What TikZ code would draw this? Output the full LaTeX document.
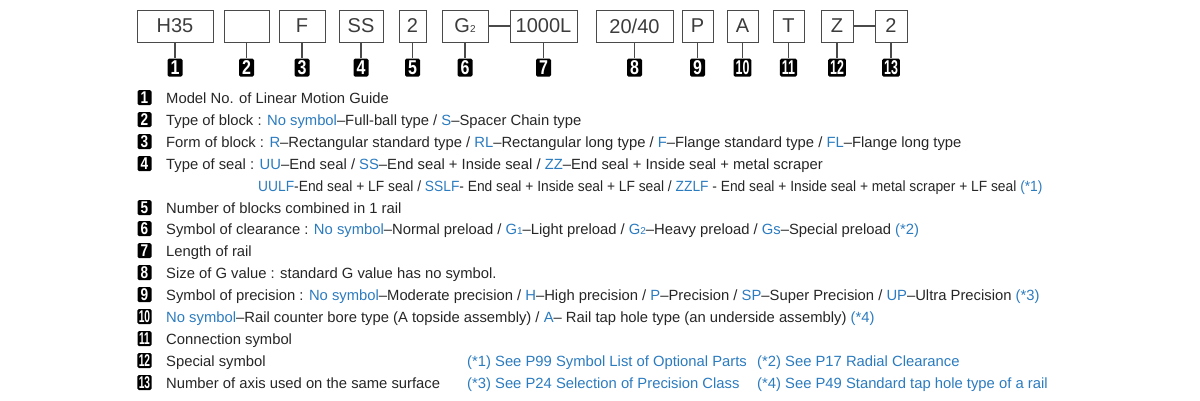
\documentclass[tikz,border=0pt]{standalone}
\usepackage{fontspec}
\setmainfont{Liberation Sans}
\usepackage{xcolor}
\usetikzlibrary{positioning}

\definecolor{codeblue}{HTML}{2B7BBF}
\definecolor{txtgray}{HTML}{262626}
\definecolor{linegray}{HTML}{4A4A4A}

\newcommand{\bl}[1]{\textcolor{codeblue}{#1}}
\newcommand{\sub}[1]{{\fontsize{10}{10}\selectfont #1}}

\begin{document}
\begin{tikzpicture}[x=1pt, y=-1pt, node distance=16pt,
  every node/.style={text=txtgray},
  codebox/.style={draw=linegray, line width=0.9pt, minimum height=32pt, inner sep=0pt, font=\fontsize{20}{20}\selectfont, text=txtgray!90!white},
  bignum/.style={fill=black, rounded corners=1.5pt, minimum width=15pt, minimum height=18pt, inner xsep=2pt, inner ysep=0pt, text=white, font=\fontsize{20}{20}\selectfont\bfseries},
  smallnum/.style={fill=black, rounded corners=1.5pt, minimum width=14pt, minimum height=15pt, inner xsep=1.5pt, inner ysep=0pt, text=white, font=\fontsize{17}{17}\selectfont\bfseries},
  stem/.style={draw=linegray, line width=1.5pt},
  item/.style={anchor=base west, inner sep=0pt, font=\fontsize{14.8}{17}\selectfont}]

\useasboundingbox (0,0) rectangle (1200,400);

% code boxes
\node[codebox, minimum width=76pt] (b1) at (175,26) {H35};
\node[codebox, minimum width=45pt] (b2) at (246.5,26) {};
\node[codebox, minimum width=46pt] (b3) at (302,26) {F};
\node[codebox, minimum width=44pt] (b4) at (361,26) {SS};
\node[codebox, minimum width=27pt] (b5) at (412.5,26) {2};
\node[codebox, minimum width=46pt] (b6) at (465,26) {G\sub{2}};
\node[codebox, minimum width=67pt] (b7) at (543.5,26) {1000L};
\node[codebox, minimum width=77pt] (b8) at (634.5,26) {20/40};
\node[codebox, minimum width=31pt] (b9) at (697.5,26) {P};
\node[codebox, minimum width=31pt] (b10) at (742.5,26) {A};
\node[codebox, minimum width=31pt] (b11) at (788.5,26) {T};
\node[codebox, minimum width=32pt] (b12) at (837,26) {Z};
\node[codebox, minimum width=32pt] (b13) at (891,26) {2};

\draw[stem] (b6) -- (b7);
\draw[stem] (b12) -- (b13);

% numbers under the boxes
\foreach \i in {1,...,9}
  \node[bignum, below=of b\i] (n\i) {\scalebox{0.8}[1]{\i}};
\foreach \i in {10,...,13}
  \node[bignum, below=of b\i] (n\i) {\scalebox{0.62}[1]{\i}};
\foreach \i in {1,...,13}
  \draw[stem] (b\i.south) -- (n\i.north);

% legend
\foreach \i/\y in {1/103,2/125,3/147,4/169,5/213,6/234,7/256,8/278,9/300}
  \node[smallnum] (m\i) at (144.5,\y-5.5) {\scalebox{0.8}[1]{\i}};
\foreach \i/\y in {10/322,11/344,12/366,13/388}
  \node[smallnum] (m\i) at (144.5,\y-5.5) {\scalebox{0.6}[1]{\i}};

\node[item] (t1) at (166,103) {Model No. of Linear Motion Guide};
\node[item] (t2) at (166,125) {Type of block : \bl{No symbol}--Full-ball type / \bl{S}--Spacer Chain type};
\node[item] (t3) at (166,147) {Form of block : \bl{R}--Rectangular standard type / \bl{RL}--Rectangular long type / \bl{F}--Flange standard type / \bl{FL}--Flange long type};
\node[item] (t4) at (166,169) {Type of seal : \bl{UU}--End seal / \bl{SS}--End seal + Inside seal / \bl{ZZ}--End seal + Inside seal + metal scraper};
\node[item] (t4b) at (258,191) {\scalebox{0.932}[1]{\bl{UULF}-End seal + LF seal / \bl{SSLF}- End seal + Inside seal + LF seal / \bl{ZZLF} - End seal + Inside seal + metal scraper + LF seal \bl{(*1)}}};
\node[item] (t5) at (166,213) {Number of blocks combined in 1 rail};
\node[item] (t6) at (166,234) {Symbol of clearance : \bl{No symbol}--Normal preload / \bl{G\sub{1}}--Light preload / \bl{G\sub{2}}--Heavy preload / \bl{Gs}--Special preload \bl{(*2)}};
\node[item] (t7) at (166,256) {Length of rail};
\node[item] (t8) at (166,278) {Size of G value : standard G value has no symbol.};
\node[item] (t9) at (166,300) {Symbol of precision : \bl{No symbol}--Moderate precision / \bl{H}--High precision / \bl{P}--Precision / \bl{SP}--Super Precision / \bl{UP}--Ultra Precision \bl{(*3)}};
\node[item] (t10) at (166,322) {\bl{No symbol}--Rail counter bore type (A topside assembly) / \bl{A}-- Rail tap hole type (an underside assembly) \bl{(*4)}};
\node[item] (t11) at (166,344) {Connection symbol};
\node[item] (t12) at (166,366) {Special symbol};
\node[item] (t13) at (166,388) {Number of axis used on the same surface};

% notes
\node[item] (f1) at (467,366) {\bl{(*1) See P99 Symbol List of Optional Parts}};
\node[item] (f2) at (757,366) {\bl{(*2) See P17 Radial Clearance}};
\node[item] (f3) at (467,388) {\bl{(*3) See P24 Selection of Precision Class}};
\node[item] (f4) at (757,388) {\bl{(*4) See P49 Standard tap hole type of a rail}};

\end{tikzpicture}
\end{document}
